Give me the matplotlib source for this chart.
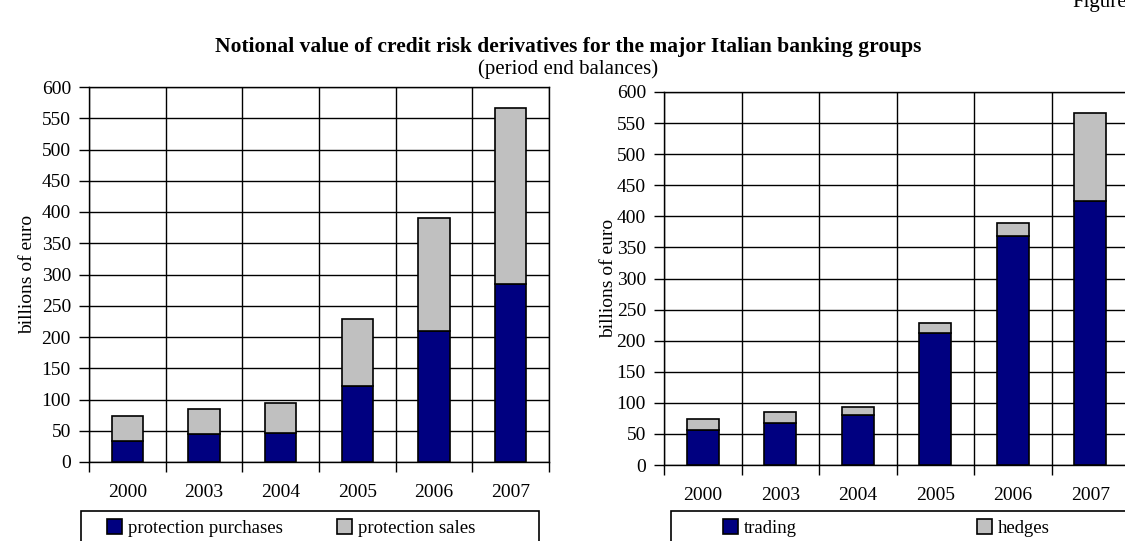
import matplotlib
matplotlib.use("Agg")
import matplotlib.pyplot as plt
from matplotlib.patches import Rectangle, Patch
import numpy as np

# Data (billions of euro, period end balances)
years = ["2000", "2003", "2004", "2005", "2006", "2007"]
protection_purchases = [33, 45, 47, 122, 209, 285]
protection_sales = [41, 40, 47, 107, 181, 282]
trading = [56, 68, 81, 213, 368, 425]
hedges = [18, 17, 13, 16, 22, 142]
y_ticks = list(range(0, 601, 50))

NAVY = "#000080"
GREY = "#C0C0C0"
W, H = 1125, 541

plt.rcParams["font.family"] = ["Liberation Serif", "DejaVu Serif"]
plt.rcParams["font.size"] = 14

fig = plt.figure(figsize=(W / 100, H / 100), dpi=100)


def px_rect(x0, y_top, x1, y_bot):
    """Figure-fraction rectangle from pixel coordinates (origin top-left)."""
    return [x0 / W, 1 - y_bot / H, (x1 - x0) / W, (y_bot - y_top) / H]


def stacked_panel(rect, lower, upper, labelpad):
    ax = fig.add_axes(rect)
    n = len(years)
    x = np.arange(n) + 0.5
    ax.bar(x, lower, width=0.41, color=NAVY, edgecolor="black", linewidth=1.2, zorder=3)
    ax.bar(x, upper, bottom=lower, width=0.41, color=GREY, edgecolor="black",
           linewidth=1.2, zorder=3)
    ax.set_xlim(0, n)
    ax.set_ylim(0, 600)
    ax.set_yticks(y_ticks)
    ax.set_xticks(np.arange(n + 1))
    ax.set_xticklabels([])
    ax.set_xticks(x, minor=True)
    ax.set_xticklabels(years, minor=True)
    ax.tick_params(axis="x", which="major", direction="out", length=7, width=1,
                   color="black")
    ax.tick_params(axis="x", which="minor", length=0, pad=16)
    ax.tick_params(axis="y", direction="out", length=7, width=1, pad=6)
    ax.grid(True, which="major", color="black", linewidth=1, zorder=0)
    for s in ax.spines.values():
        s.set_color("black")
        s.set_linewidth(1)
    ax.set_ylabel("billions of euro", fontsize=14, labelpad=labelpad)
    return ax


ax1 = stacked_panel(px_rect(89, 87, 549, 462), protection_purchases, protection_sales, 4)
ax2 = stacked_panel(px_rect(664, 92, 1129, 465), trading, hedges, 0)


def legend_box(x0, x1, entries):
    fig.patches.append(Rectangle((x0 / W, -0.05), (x1 - x0) / W, 0.05 + (H - 511) / H,
                                 transform=fig.transFigure, facecolor="white",
                                 edgecolor="black", linewidth=1.2, zorder=5))
    for xh, label, color in entries:
        leg = fig.legend(handles=[Patch(facecolor=color, edgecolor="black", linewidth=1.2)],
                         labels=[label], loc="center left",
                         bbox_to_anchor=(xh / W, 1 - 528 / H), bbox_transform=fig.transFigure,
                         frameon=False, borderpad=0, borderaxespad=0,
                         handlelength=0.8, handleheight=0.8, handletextpad=0.3,
                         fontsize=13.5)
        leg.set_zorder(6)


legend_box(81, 539, [(107, "protection purchases", NAVY),
                     (337, "protection sales", GREY)])
legend_box(671, 1140, [(723, "trading", NAVY), (977, "hedges", GREY)])

fig.text(568 / W, 1 - 47 / H,
         "Notional value of credit risk derivatives for the major Italian banking groups",
         ha="center", va="center", fontsize=15.5, fontweight="bold")
fig.text(568 / W, 1 - 69 / H, "(period end balances)", ha="center", va="center",
         fontsize=15)
fig.text(1072 / W, 1 - 7 / H, "Figure", ha="left", va="baseline", fontsize=15)

fig.savefig("out.png", dpi=100)
